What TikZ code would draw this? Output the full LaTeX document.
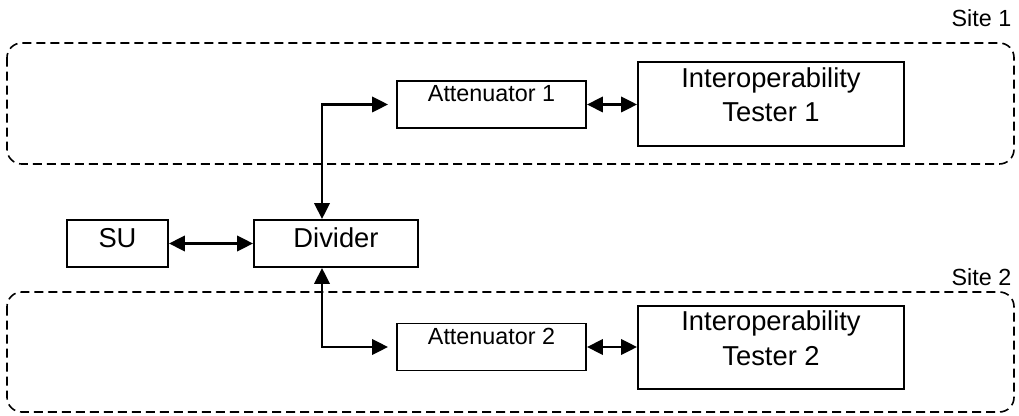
\documentclass[tikz,border=0pt]{standalone}
\usepackage{fontspec}
\setmainfont{Liberation Sans}
\usetikzlibrary{arrows.meta}
\begin{document}
\begin{tikzpicture}[x=0.75pt,y=-0.75pt,
  box/.style={draw, line width=1.4pt, inner sep=0pt},
  site/.style={draw, dash pattern=on 6.75pt off 3.75pt, line width=1.2pt, rounded corners=11pt},
  conn/.style={line width=1.8pt, {Triangle[length=12pt,width=11.5pt]}-{Triangle[length=12pt,width=11.5pt]}},
  small/.style={font=\fontsize{17.5}{21}\selectfont},
  big/.style={font=\fontsize{20.5}{25.8}\selectfont, align=center}]
\useasboundingbox (0,0) rectangle (1019,416);
% site boxes
\draw[site] (7,43) rectangle (1014,164);
\draw[site] (7,292) rectangle (1014,412);
\node[small, anchor=base east] (s1) at (1016,27) {Site 1};
\node[small, anchor=base east] (s2) at (1016,286) {Site 2};
% nodes
\node[box, minimum width=75.75pt, minimum height=35.25pt,
      label={[big,yshift=4pt]center:SU}] (su) at (117.5,243.5) {};
\node[box, minimum width=123pt, minimum height=35.25pt,
      label={[big,yshift=4pt]center:Divider}] (div) at (336,243.5) {};
\node[box, minimum width=141.75pt, minimum height=35.25pt,
      label={[small,yshift=7.9pt]center:Attenuator 1}] (att1) at (491.5,104.5) {};
\node[box, minimum width=141.75pt, minimum height=35.25pt,
      label={[small,yshift=7.9pt]center:Attenuator 2}] (att2) at (491.5,347) {};
\node[box, minimum width=199.5pt, minimum height=63pt,
      label={[big,yshift=7.1pt]center:Interoperability\\Tester 1}] (t1) at (771,104) {};
\node[box, minimum width=199.5pt, minimum height=62.25pt,
      label={[big,yshift=7.1pt]center:Interoperability\\Tester 2}] (t2) at (771,347.5) {};
\coordinate (vx) at (322,0);
% connectors
\draw[conn] (su.east) -- (div.west);
\draw[conn] (att1.east) -- (att1.east -| t1.west);
\draw[conn] (att2.east) -- (att2.east -| t2.west);
\draw[conn, shorten <=6pt] (att1.west) -| (div.north -| vx);
\draw[conn, shorten <=6pt] (att2.west) -| (div.south -| vx);
\end{tikzpicture}
\end{document}
